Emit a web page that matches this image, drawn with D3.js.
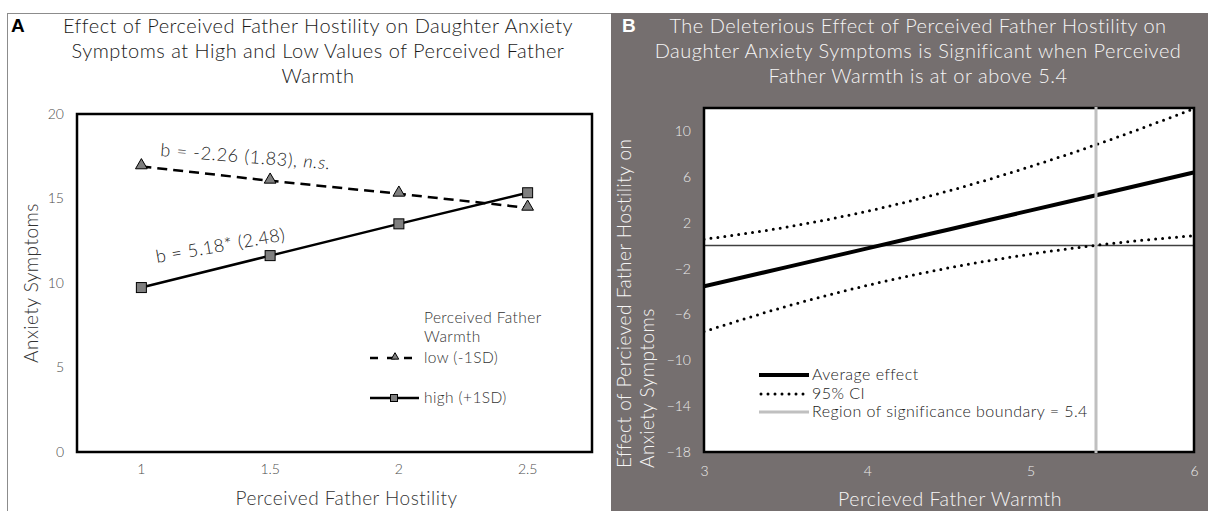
<!DOCTYPE html>
<html>
<head>
<meta charset="utf-8">
<script src="https://cdn.jsdelivr.net/npm/d3@7"></script>
<style>
  body { margin: 0; background: #fff; }
  svg { display: block; font-family: Lato, "Open Sans", sans-serif; font-weight: 300; }
  .tick text { font-family: Lato, sans-serif; font-weight: 300; }
</style>
</head>
<body>
<svg width="1208" height="511"></svg>
<script>
// ---- panel A data ----
var hostility = ['1', '1.5', '2', '2.5'];
var lowWarmth = [16.9, 16.05, 15.28, 14.45];
var highWarmth = [9.73, 11.62, 13.5, 15.34];
var yTicksA = [0, 5, 10, 15, 20];

// ---- panel B data ----
var warmth = [3, 3.5, 4, 4.5, 5, 5.5, 6];
var avgEffect = [-3.55, -1.9, -0.24, 1.41, 3.07, 4.72, 6.38];
var ciUpper = [0.55, 1.6, 3.0, 4.78, 6.9, 9.3, 11.95];
var ciLower = [-7.5, -5.32, -3.47, -1.94, -0.74, 0.19, 0.87];
var yTicksB = [-18, -14, -10, -6, -2, 2, 6, 10];
var xTicksB = [3, 4, 5, 6];
var boundary = 5.4;

var svg = d3.select('svg');

/* ---------
PANEL A
--------- */
svg.append('rect')
  .attr('x', 7.5).attr('y', 13.5)
  .attr('width', 610).attr('height', 520)
  .attr('fill', '#fff')
  .attr('stroke', '#8c8c8c');

var ax = {left: 77, right: 592, top: 114, bottom: 452};

var xA = d3.scaleBand().domain(hostility).range([ax.left, ax.right]);
var yA = d3.scaleLinear().domain([0, 20]).range([ax.bottom, ax.top]);

svg.append('text')
  .attr('x', 11).attr('y', 32)
  .style('font-family', 'Liberation Sans, Arial, sans-serif')
  .style('font-weight', 700)
  .style('font-size', '19px')
  .attr('fill', '#000')
  .text('A');

var titleA = ['Effect of Perceived Father Hostility on Daughter Anxiety',
  'Symptoms at High and Low Values of Perceived Father', 'Warmth'];
svg.append('g').selectAll('text')
  .data(titleA)
  .enter().append('text')
  .attr('x', 318)
  .attr('y', function(d, i) { return 33 + i * 25; })
  .attr('text-anchor', 'middle')
  .attr('fill', '#1a1a1a')
  .style('font-size', '20px')
  .style('letter-spacing', '0.5px')
  .text(function(d) { return d; });

svg.append('g')
  .attr('transform', 'translate(' + (ax.left - 13) + ',0)')
  .call(d3.axisLeft(yA).tickValues(yTicksA).tickSize(0).tickPadding(0))
  .call(function(g) { g.select('.domain').remove(); })
  .selectAll('text')
  .attr('fill', '#4d4d4d')
  .style('font-size', '14px');

svg.append('g')
  .attr('transform', 'translate(0,' + (ax.bottom + 12) + ')')
  .call(d3.axisBottom(xA).tickSize(0).tickPadding(0))
  .call(function(g) { g.select('.domain').remove(); })
  .selectAll('text')
  .attr('fill', '#4d4d4d')
  .style('font-size', '14px');

svg.append('text')
  .attr('x', (ax.left + ax.right) / 2 + 12).attr('y', 505)
  .attr('text-anchor', 'middle')
  .attr('fill', '#333')
  .style('font-size', '19px')
  .style('letter-spacing', '0.5px')
  .text('Perceived Father Hostility');

svg.append('text')
  .attr('transform', 'translate(38,' + ((ax.top + ax.bottom) / 2) + ') rotate(-90)')
  .attr('text-anchor', 'middle')
  .attr('fill', '#333')
  .style('font-size', '19px')
  .style('letter-spacing', '0.5px')
  .text('Anxiety Symptoms');

var cx = function(d, i) { return xA(hostility[i]) + xA.bandwidth() / 2; };
var lineA = d3.line().x(cx).y(function(d) { return yA(d); });

svg.append('path')
  .datum(lowWarmth)
  .attr('d', lineA)
  .attr('fill', 'none')
  .attr('stroke', '#000')
  .attr('stroke-width', 2.5)
  .attr('stroke-dasharray', '10,6');

svg.append('path')
  .datum(highWarmth)
  .attr('d', lineA)
  .attr('fill', 'none')
  .attr('stroke', '#000')
  .attr('stroke-width', 2.5);

svg.append('g').selectAll('path')
  .data(lowWarmth)
  .enter().append('path')
  .attr('transform', function(d, i) { return 'translate(' + cx(d, i) + ',' + (yA(d) - 1) + ')'; })
  .attr('d', d3.symbol().type(d3.symbolTriangle).size(60))
  .attr('fill', '#7f7f7f')
  .attr('stroke', '#000')
  .attr('stroke-width', 1);

svg.append('g').selectAll('rect')
  .data(highWarmth)
  .enter().append('rect')
  .attr('x', function(d, i) { return cx(d, i) - 5; })
  .attr('y', function(d) { return yA(d) - 5; })
  .attr('width', 10).attr('height', 10)
  .attr('fill', '#7f7f7f')
  .attr('stroke', '#000')
  .attr('stroke-width', 1);

svg.append('rect')
  .attr('x', ax.left).attr('y', ax.top)
  .attr('width', ax.right - ax.left).attr('height', ax.bottom - ax.top)
  .attr('fill', 'none')
  .attr('stroke', '#000')
  .attr('stroke-width', 2.5);

// slope annotations
var annLow = svg.append('text')
  .attr('transform', 'translate(160,156) rotate(4.5)')
  .attr('fill', '#1a1a1a')
  .style('font-size', '18px')
  .style('letter-spacing', '0.7px');
annLow.append('tspan').text('b = -2.26 (1.83), ');
annLow.append('tspan').style('font-style', 'italic').text('n.s.');

svg.append('text')
  .attr('transform', 'translate(157,263) rotate(-10)')
  .attr('fill', '#1a1a1a')
  .style('font-size', '18px')
  .style('letter-spacing', '0.5px')
  .text('b = 5.18* (2.48)');

// legend A
var legA = svg.append('g').attr('fill', '#333')
  .style('font-size', '15.5px').style('letter-spacing', '0.4px');
legA.append('text').attr('x', 424).attr('y', 323).text('Perceived Father');
legA.append('text').attr('x', 424).attr('y', 342).text('Warmth');
legA.append('text').attr('x', 424).attr('y', 363).text('low (-1SD)');
legA.append('text').attr('x', 424).attr('y', 403).text('high (+1SD)');
legA.append('line')
  .attr('x1', 370).attr('x2', 419).attr('y1', 358).attr('y2', 358)
  .attr('stroke', '#000').attr('stroke-width', 2.5).attr('stroke-dasharray', '8,9');
legA.append('path')
  .attr('transform', 'translate(395,357)')
  .attr('d', d3.symbol().type(d3.symbolTriangle).size(24))
  .attr('fill', '#7f7f7f').attr('stroke', '#000');
legA.append('line')
  .attr('x1', 370).attr('x2', 419).attr('y1', 398).attr('y2', 398)
  .attr('stroke', '#000').attr('stroke-width', 2.5);
legA.append('rect')
  .attr('x', 390.5).attr('y', 394.5).attr('width', 7).attr('height', 7)
  .attr('fill', '#7f7f7f').attr('stroke', '#000');

/* ---------
PANEL B
--------- */
svg.append('rect')
  .attr('x', 611).attr('y', 13)
  .attr('width', 597).attr('height', 498)
  .attr('fill', '#756f6f');

var bx = {left: 704, right: 1194, top: 108, bottom: 452};
var xB = d3.scaleLinear().domain([3, 6]).range([bx.left, bx.right]);
var yB = d3.scaleLinear().domain([-18, 12]).range([bx.bottom, bx.top]);

svg.append('text')
  .attr('x', 622).attr('y', 32)
  .style('font-family', 'Liberation Sans, Arial, sans-serif')
  .style('font-weight', 700)
  .style('font-size', '19px')
  .attr('fill', '#fff')
  .text('B');

var titleB = ['The Deleterious Effect of Perceived Father Hostility on',
  'Daughter Anxiety Symptoms is Significant when Perceived',
  'Father Warmth is at or above 5.4'];
svg.append('g').selectAll('text')
  .data(titleB)
  .enter().append('text')
  .attr('x', 918)
  .attr('y', function(d, i) { return 33 + i * 25; })
  .attr('text-anchor', 'middle')
  .attr('fill', '#f5f5f5')
  .style('font-size', '20px')
  .style('letter-spacing', '0.5px')
  .text(function(d) { return d; });

svg.append('rect')
  .attr('x', bx.left).attr('y', bx.top)
  .attr('width', bx.right - bx.left).attr('height', bx.bottom - bx.top)
  .attr('fill', '#fff');

svg.append('g')
  .attr('transform', 'translate(' + (bx.left - 13) + ',0)')
  .call(d3.axisLeft(yB).tickValues(yTicksB).tickSize(0).tickPadding(0))
  .call(function(g) { g.select('.domain').remove(); })
  .selectAll('text')
  .attr('fill', '#ececec')
  .style('font-size', '14px');

svg.append('g')
  .attr('transform', 'translate(0,' + (bx.bottom + 14) + ')')
  .call(d3.axisBottom(xB).tickValues(xTicksB).tickFormat(d3.format('d')).tickSize(0).tickPadding(0))
  .call(function(g) { g.select('.domain').remove(); })
  .selectAll('text')
  .attr('fill', '#ececec')
  .style('font-size', '14px');

svg.append('text')
  .attr('x', 950).attr('y', 506)
  .attr('text-anchor', 'middle')
  .attr('fill', '#f5f5f5')
  .style('font-size', '19.5px')
  .style('letter-spacing', '0.5px')
  .text('Percieved Father Warmth');

var yTitleB = svg.append('text')
  .attr('transform', 'translate(631,468) rotate(-90)')
  .attr('fill', '#f5f5f5')
  .style('font-size', '19px')
  .style('letter-spacing', '0.5px');
yTitleB.append('tspan').attr('x', 0).attr('dy', 0).text('Effect of Percieved Father Hostility on');
yTitleB.append('tspan').attr('x', 0).attr('dy', 23).text('Anxiety Symptoms');

svg.append('clipPath').attr('id', 'clip-b')
  .append('rect')
  .attr('x', bx.left).attr('y', bx.top)
  .attr('width', bx.right - bx.left).attr('height', bx.bottom - bx.top);

var plotB = svg.append('g').attr('clip-path', 'url(#clip-b)');

plotB.append('line')
  .attr('x1', bx.left).attr('x2', bx.right)
  .attr('y1', yB(0)).attr('y2', yB(0))
  .attr('stroke', '#404040').attr('stroke-width', 1.5);

var lineB = d3.line()
  .x(function(d, i) { return xB(warmth[i]); })
  .y(function(d) { return yB(d); })
  .curve(d3.curveMonotoneX);

[ciUpper, ciLower].forEach(function(s) {
  plotB.append('path')
    .datum(s)
    .attr('d', lineB)
    .attr('fill', 'none')
    .attr('stroke', '#000')
    .attr('stroke-width', 3)
    .attr('stroke-linecap', 'round')
    .attr('stroke-dasharray', '0,7');
});

plotB.append('path')
  .datum(avgEffect)
  .attr('d', lineB)
  .attr('fill', 'none')
  .attr('stroke', '#000')
  .attr('stroke-width', 4);

svg.append('rect')
  .attr('x', bx.left).attr('y', bx.top)
  .attr('width', bx.right - bx.left).attr('height', bx.bottom - bx.top)
  .attr('fill', 'none')
  .attr('stroke', '#000')
  .attr('stroke-width', 2.5);

svg.append('line')
  .attr('x1', xB(boundary)).attr('x2', xB(boundary))
  .attr('y1', bx.top - 1).attr('y2', bx.bottom + 1)
  .attr('stroke', '#c0c0c0').attr('stroke-width', 3);

// legend B
var legB = svg.append('g').attr('fill', '#1a1a1a')
  .style('font-size', '16px').style('letter-spacing', '0.45px');
var legItems = ['Average effect', '95% CI', 'Region of significance boundary = 5.4'];
legB.selectAll('text')
  .data(legItems)
  .enter().append('text')
  .attr('x', 812)
  .attr('y', function(d, i) { return 380 + i * 18.5; })
  .text(function(d) { return d; });
legB.append('line')
  .attr('x1', 759).attr('x2', 809).attr('y1', 375).attr('y2', 375)
  .attr('stroke', '#000').attr('stroke-width', 4);
legB.append('line')
  .attr('x1', 761).attr('x2', 809).attr('y1', 394).attr('y2', 394)
  .attr('stroke', '#000').attr('stroke-width', 3)
  .attr('stroke-linecap', 'round').attr('stroke-dasharray', '0,7');
legB.append('line')
  .attr('x1', 759).attr('x2', 809).attr('y1', 412).attr('y2', 412)
  .attr('stroke', '#c0c0c0').attr('stroke-width', 3);
</script>
</body>
</html>
